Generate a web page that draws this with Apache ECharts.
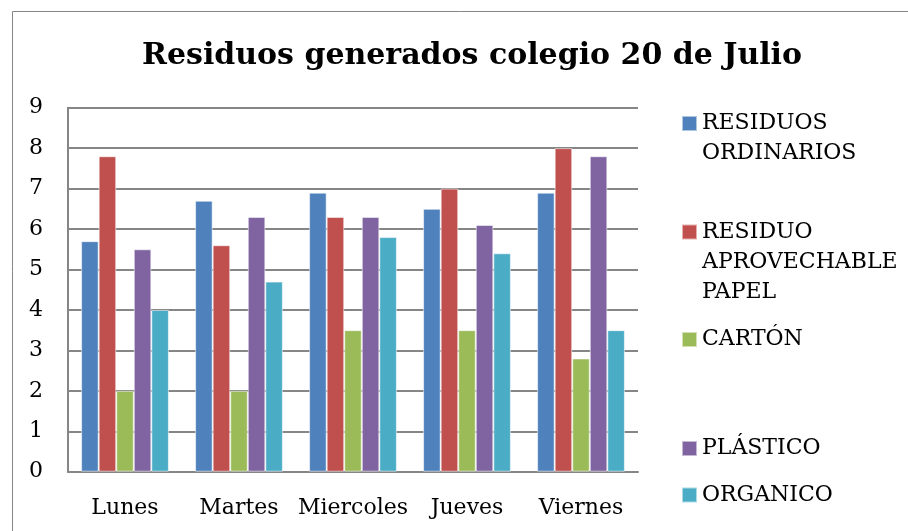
<!DOCTYPE html>
<html>
<head>
<meta charset="utf-8">
<style>
  html, body { margin: 0; padding: 0; background: #fff; }
  #chart { width: 908px; height: 531px; }
</style>
<script src="https://cdn.jsdelivr.net/npm/echarts@6/dist/echarts.min.js"></script>
</head>
<body>
<div id="chart"></div>
<script>
const days = ["Lunes", "Martes", "Miercoles", "Jueves", "Viernes"];
const seriesNames = ["RESIDUOS ORDINARIOS", "RESIDUO APROVECHABLE PAPEL", "CARTÓN", "PLÁSTICO", "ORGANICO"];
const ordinarios = [5.7, 6.7, 6.9, 6.5, 6.9];
const papel = [7.8, 5.6, 6.3, 7.0, 8.0];
const carton = [2.0, 2.0, 3.5, 3.5, 2.8];
const plastico = [5.5, 6.3, 6.3, 6.1, 7.8];
const organico = [4.0, 4.7, 5.8, 5.4, 3.5];
const yTicks = [0, 1, 2, 3, 4, 5, 6, 7, 8, 9];

const colors = ["#4F81BD", "#C0504D", "#9BBB59", "#8064A2", "#4BACC6"];
const values = [ordinarios, papel, carton, plastico, organico];
const serif = "DejaVu Serif";

// una leyenda por serie, para poder colocar cada una a su altura
const legendTops = [78.5, 157, 324.5, 433.5, 480];

// el icono queda centrado en el bloque de texto: se anteponen lineas vacias
// para que quede a la altura de la primera linea
function legendText(name) {
  const lines = name.split(" ");
  return new Array(lines.length - 1).fill("").concat(lines).join("\n");
}

const chart = echarts.init(document.getElementById("chart"));
chart.setOption({
  animation: false,
  color: colors,
  title: {
    text: "Residuos generados colegio 20 de Julio",
    left: 467,
    textAlign: "center",
    top: 36,
    textStyle: { fontFamily: serif, fontWeight: "bold", fontSize: 30, color: "#000" }
  },
  graphic: [{
    type: "rect",
    shape: { x: 12.5, y: 11.5, width: 1000, height: 1000 },
    style: { fill: "none", stroke: "#868686", lineWidth: 1 },
    silent: true
  }],
  legend: seriesNames.map((name, i) => ({
    data: [name],
    left: 681,
    top: legendTops[i],
    padding: 0,
    itemWidth: 15,
    itemHeight: 15,
    selectedMode: false,
    icon: "rect",
    formatter: legendText,
    textStyle: { fontFamily: serif, fontSize: 22, color: "#000", lineHeight: 30 }
  })),
  grid: { left: 68, right: 270, top: 107.7, bottom: 59.3 },
  xAxis: {
    type: "category",
    data: days,
    axisTick: { show: false },
    axisLine: { lineStyle: { color: "#868686", width: 2 } },
    axisLabel: { fontFamily: serif, fontSize: 22, color: "#000", margin: 26, interval: 0 }
  },
  yAxis: {
    type: "value",
    min: 0,
    max: 9,
    interval: 1,
    axisLine: { show: true, lineStyle: { color: "#868686", width: 2 } },
    axisTick: { show: false },
    splitLine: { lineStyle: { color: "#868686", width: 2 } },
    axisLabel: {
      fontFamily: serif, fontSize: 22, color: "#000", margin: 25,
      formatter: v => yTicks.includes(v) ? String(v) : ""
    }
  },
  series: values.map((data, i) => ({
    name: seriesNames[i],
    type: "bar",
    data,
    barGap: "0%",
    barCategoryGap: "23%",
    itemStyle: { color: colors[i], borderColor: "rgba(255,255,255,0.55)", borderWidth: 1 }
  }))
});
</script>
</body>
</html>
